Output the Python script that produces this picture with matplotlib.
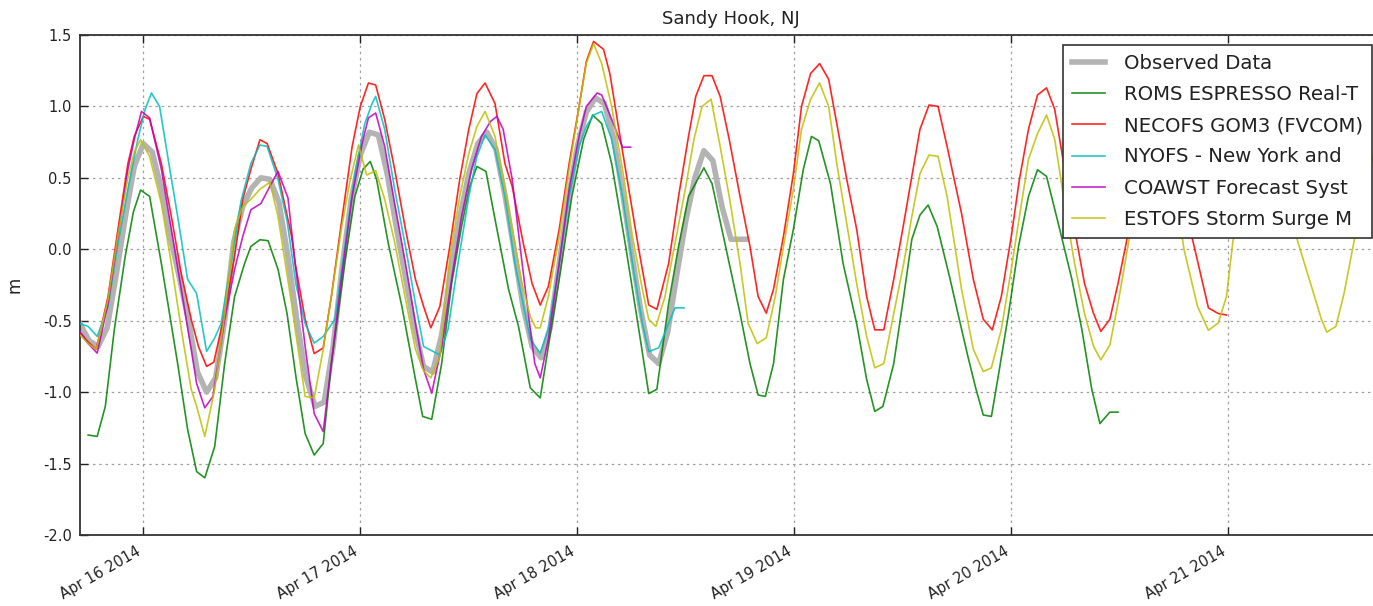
import numpy as np
import pandas as pd
import matplotlib
matplotlib.use("Agg")
import matplotlib.pyplot as plt
import matplotlib.dates as mdates

# ---------------- data (hours after 2014-04-15 17:00, water level in m) ----------------
start_time = "2014-04-15 17:00"

obs_hours = [0, 1, 2, 3, 4, 5, 6, 7, 8, 9, 10, 11, 12, 13, 14, 15, 16, 17, 18, 19, 20, 21, 22, 23,
             24, 25, 26, 27, 28, 29, 30, 31, 32, 33, 34, 35, 36, 37, 38, 39, 40, 41, 42, 43, 44, 45,
             46, 47, 48, 49, 50, 51, 52, 53, 54, 55, 56, 57, 58, 59, 60, 61, 62, 63, 64, 65, 66, 67,
             68, 69, 70, 71, 72, 73, 73.6]
obs_vals = [-0.52, -0.64, -0.68, -0.55, -0.18, 0.22, 0.58, 0.74, 0.68, 0.42, 0.08, -0.2, -0.5, -0.86,
            -1.0, -0.9, -0.5, 0.05, 0.3, 0.43, 0.5, 0.49, 0.33, -0.05, -0.5, -0.9, -1.1, -1.07, -0.68,
            -0.12, 0.35, 0.66, 0.82, 0.8, 0.52, 0.15, -0.2, -0.55, -0.82, -0.86, -0.6, -0.15, 0.22, 0.53,
            0.74, 0.82, 0.7, 0.38, 0.0, -0.4, -0.68, -0.76, -0.55, -0.1, 0.35, 0.72, 0.96, 1.06, 1.02,
            0.78, 0.4, -0.02, -0.42, -0.74, -0.8, -0.58, -0.18, 0.2, 0.5, 0.69, 0.62, 0.3, 0.07, 0.07, 0.07]

roms_hours = [0.9, 1.9, 2.8, 3.8, 5.0, 5.9, 6.7, 7.7, 9.0, 10.8, 11.9, 12.9, 13.8, 14.9, 16.0, 17.1,
              18.2, 18.9, 19.9, 20.8, 21.9, 22.9, 23.9, 24.9, 25.9, 26.9, 27.8, 29.3, 30.4, 31.3, 32.1,
              32.8, 34.1, 35.6, 37.1, 37.9, 38.9, 40.0, 41.1, 42.2, 43.1, 43.9, 44.9, 45.9, 47.4, 48.5,
              49.8, 50.9, 51.8, 53.0, 54.4, 55.7, 56.7, 57.7, 58.8, 60.3, 61.8, 62.9, 63.8, 65.1, 66.2,
              67.3, 69.0, 69.9, 71.4, 73.0, 74.1, 75.0, 75.8, 76.7, 77.8, 78.9, 80.0, 80.9, 81.7, 83.0,
              84.4, 85.9, 87.0, 87.9, 88.8, 90.0, 91.1, 92.0, 92.9, 93.8, 94.8, 96.2, 97.1, 98.2, 99.1,
              99.9, 100.8, 101.5, 102.7, 103.8, 104.9, 105.9, 106.9, 108.2, 109.7, 110.8, 111.9, 112.8,
              113.9, 114.8]
roms_vals = [-1.30, -1.31, -1.10, -0.56, -0.05, 0.26, 0.415, 0.37, -0.1, -0.8, -1.26, -1.556, -1.60,
             -1.38, -0.8, -0.33, -0.1, 0.02, 0.067, 0.06, -0.14, -0.45, -0.9, -1.29, -1.44, -1.36, -0.8,
             -0.09, 0.37, 0.56, 0.615, 0.49, 0.04, -0.40, -0.91, -1.17, -1.19, -0.80, -0.24, 0.16, 0.44,
             0.58, 0.545, 0.21, -0.28, -0.54, -0.97, -1.04, -0.68, -0.21, 0.37, 0.77, 0.94, 0.88, 0.60,
             0.04, -0.56, -1.01, -0.98, -0.38, 0.02, 0.37, 0.57, 0.46, 0.02, -0.45, -0.80, -1.02, -1.03,
             -0.80, -0.21, 0.14, 0.56, 0.79, 0.76, 0.46, -0.1, -0.52, -0.91, -1.135, -1.10, -0.80, -0.33,
             0.07, 0.24, 0.31, 0.16, -0.2, -0.45, -0.75, -0.98, -1.16, -1.17, -0.91, -0.45, 0.02, 0.37,
             0.557, 0.51, 0.18, -0.21, -0.56, -0.98, -1.22, -1.14, -1.14]

necofs_hours = [0, 0.9, 1.8, 3.1, 4.2, 5.3, 6.0, 7.0, 7.7, 9.0, 10.1, 11.2, 12.3, 13.1, 14.0, 14.8,
                16.0, 17.1, 18.0, 18.9, 19.9, 20.7, 21.9, 23.4, 23.8, 24.9, 25.9, 26.9, 27.8, 28.9,
                30.1, 31.0, 31.9, 32.7, 33.7, 34.8, 36.0, 37.1, 38.0, 38.8, 39.8, 40.9, 42.0, 43.0,
                43.9, 44.8, 45.9, 47.0, 47.8, 49.0, 50.0, 50.9, 51.8, 53.0, 54.1, 55.2, 56.0, 56.8,
                57.9, 58.6, 59.6, 60.7, 61.8, 62.9, 63.8, 65.1, 66.2, 67.3, 68.1, 69.0, 69.9, 70.8,
                71.8, 73.0, 74.1, 75.0, 75.9, 76.7, 77.8, 78.9, 79.8, 80.8, 81.8, 82.8, 83.7, 84.8,
                85.9, 87.0, 87.9, 88.9, 90.0, 91.1, 92.0, 92.9, 93.9, 94.9, 95.9, 97.5, 98.8, 99.9,
                100.9, 101.9, 103.0, 103.9, 104.9, 105.9, 106.9, 107.8, 108.9, 110.0, 111.1, 112.1,
                112.9, 113.9, 114.8, 115.7, 116.8, 117.8, 118.8, 119.8, 120.8, 121.8, 123.3, 124.8,
                125.9, 126.8]
necofs_vals = [-0.58, -0.65, -0.70, -0.33, 0.14, 0.60, 0.79, 0.93, 0.91, 0.60, 0.23, -0.17, -0.49,
               -0.68, -0.82, -0.79, -0.45, -0.05, 0.35, 0.56, 0.767, 0.74, 0.53, 0.09, -0.1, -0.49,
               -0.73, -0.69, -0.33, 0.18, 0.72, 1.0, 1.164, 1.15, 0.91, 0.56, 0.14, -0.21, -0.40,
               -0.55, -0.40, 0.02, 0.49, 0.84, 1.09, 1.164, 1.02, 0.60, 0.44, 0.05, -0.24, -0.39,
               -0.26, 0.14, 0.60, 1.0, 1.315, 1.455, 1.40, 1.23, 0.84, 0.42, 0.0, -0.39, -0.42, -0.1,
               0.37, 0.79, 1.07, 1.215, 1.215, 1.07, 0.77, 0.37, 0.02, -0.33, -0.447, -0.28, 0.09,
               0.53, 1.0, 1.23, 1.30, 1.19, 0.88, 0.49, 0.14, -0.33, -0.564, -0.564, -0.21, 0.18,
               0.51, 0.84, 1.01, 1.0, 0.72, 0.25, -0.21, -0.49, -0.564, -0.33, 0.09, 0.49, 0.84,
               1.08, 1.13, 0.98, 0.56, 0.14, -0.24, -0.45, -0.575, -0.49, -0.24, 0.04, 0.45, 0.8,
               1.0, 1.0, 0.75, 0.4, 0.0, -0.41, -0.45, -0.46]

nyofs_hours = [0, 0.9, 1.9, 3.1, 4.2, 5.3, 6.4, 7.2, 7.9, 8.8, 9.7, 10.8, 11.9, 12.9, 14.0, 14.9,
               15.6, 16.7, 17.8, 18.9, 19.9, 20.7, 21.9, 22.9, 23.9, 24.9, 25.9, 26.9, 28.2, 29.3,
               30.4, 31.5, 32.3, 32.7, 33.7, 34.8, 36.0, 37.1, 38.0, 39.8, 40.7, 41.8, 43.0, 43.9,
               44.8, 45.9, 47.0, 48.1, 49.8, 50.9, 51.8, 53.0, 54.1, 55.2, 56.0, 56.8, 57.7, 58.8,
               60.0, 61.1, 62.2, 62.9, 64.0, 65.1, 65.8, 66.8]
nyofs_vals = [-0.52, -0.54, -0.61, -0.40, 0.04, 0.42, 0.77, 0.98, 1.094, 1.0, 0.65, 0.23, -0.21,
              -0.31, -0.715, -0.62, -0.52, -0.1, 0.335, 0.60, 0.73, 0.72, 0.49, 0.2, -0.25, -0.52,
              -0.657, -0.61, -0.49, 0.02, 0.53, 0.88, 1.02, 1.07, 0.84, 0.42, 0.02, -0.38, -0.68,
              -0.74, -0.56, -0.1, 0.37, 0.65, 0.80, 0.70, 0.37, -0.1, -0.63, -0.727, -0.56, -0.1,
              0.37, 0.72, 0.86, 0.94, 0.965, 0.77, 0.37, -0.1, -0.52, -0.716, -0.69, -0.52, -0.41,
              -0.41]

coawst_hours = [0, 0.9, 1.9, 3.1, 4.2, 5.3, 6.0, 6.8, 7.7, 9.0, 10.1, 11.2, 12.3, 12.9, 13.8, 14.7,
                16.0, 17.1, 18.0, 18.9, 20.0, 21.0, 21.9, 23.0, 23.8, 24.9, 25.9, 26.9, 27.8, 28.9,
                30.1, 31.2, 31.9, 32.7, 33.7, 34.8, 36.0, 37.1, 38.0, 38.9, 40.0, 41.1, 42.2, 43.3,
                44.4, 45.4, 46.1, 46.8, 47.8, 48.9, 49.8, 50.3, 50.9, 51.8, 53.0, 54.1, 55.2, 56.0,
                57.2, 57.7, 58.8, 60.0, 60.9]
coawst_vals = [-0.58, -0.66, -0.727, -0.38, 0.09, 0.56, 0.77, 0.965, 0.92, 0.56, 0.14, -0.28, -0.70,
               -0.94, -1.11, -1.03, -0.49, -0.14, 0.09, 0.277, 0.32, 0.44, 0.545, 0.36, -0.1, -0.68,
               -1.15, -1.276, -0.80, -0.21, 0.37, 0.74, 0.92, 0.954, 0.72, 0.32, -0.1, -0.52, -0.84,
               -1.007, -0.68, -0.21, 0.23, 0.56, 0.79, 0.895, 0.93, 0.84, 0.49, -0.1, -0.56, -0.80,
               -0.90, -0.63, -0.1, 0.42, 0.79, 1.0, 1.094, 1.08, 0.91, 0.715, 0.715]

estofs_hours = [0, 0.9, 1.8, 3.1, 4.2, 5.3, 6.0, 6.7, 7.7, 9.0, 10.1, 11.2, 12.3, 12.9, 13.8, 14.9,
                16.0, 17.1, 18.0, 18.9, 19.9, 21.0, 21.9, 23.4, 23.8, 24.9, 25.9, 26.9, 27.8, 28.9,
                29.9, 30.8, 31.7, 32.7, 33.7, 34.8, 36.0, 37.1, 38.0, 38.8, 39.8, 40.9, 42.0, 43.0,
                43.9, 44.8, 45.9, 47.0, 48.1, 48.9, 49.8, 50.4, 50.9, 51.8, 53.0, 54.1, 55.2, 56.0,
                56.8, 57.7, 58.8, 60.0, 61.1, 62.2, 62.9, 63.7, 64.7, 65.8, 67.0, 67.9, 68.8, 69.8,
                70.8, 71.8, 73.0, 73.9, 74.9, 75.9, 76.9, 77.8, 78.9, 79.8, 80.8, 81.8, 82.8, 83.7,
                84.8, 85.9, 87.0, 87.9, 88.9, 90.0, 91.1, 92.0, 92.9, 93.9, 94.9, 95.9, 97.5, 98.8,
                99.9, 100.8, 101.9, 103.0, 103.9, 104.9, 105.9, 106.9, 107.8, 108.9, 110.0, 111.1,
                112.1, 112.9, 113.9, 114.8, 115.7, 116.8, 117.8, 118.8, 119.8, 120.8, 121.4, 122.1,
                123.6, 124.8, 125.9, 126.8, 127.5, 128.5, 129.5, 130.5, 131.5, 132.5, 133.5, 134.7,
                136.2, 137.3, 137.9, 138.9, 139.8, 140.8, 141.8, 142.8, 143.8]
estofs_vals = [-0.6, -0.66, -0.70, -0.35, 0.1, 0.5, 0.68, 0.767, 0.65, 0.32, -0.1, -0.56, -0.98, -1.1,
               -1.31, -0.98, -0.45, 0.14, 0.30, 0.35, 0.42, 0.47, 0.23, -0.38, -0.56, -1.03, -1.04,
               -0.70, -0.33, 0.14, 0.49, 0.73, 0.52, 0.55, 0.35, 0.05, -0.35, -0.7, -0.85, -0.90,
               -0.75, -0.05, 0.37, 0.67, 0.86, 0.965, 0.79, 0.42, 0.04, -0.24, -0.47, -0.55, -0.55,
               -0.33, 0.09, 0.56, 1.0, 1.30, 1.44, 1.30, 1.0, 0.56, 0.09, -0.28, -0.49, -0.54, -0.33,
               0.04, 0.44, 0.77, 1.0, 1.05, 0.72, 0.37, -0.1, -0.52, -0.66, -0.62, -0.33, 0.02, 0.42,
               0.84, 1.05, 1.164, 1.0, 0.60, 0.18, -0.24, -0.61, -0.83, -0.80, -0.45, -0.1, 0.23,
               0.53, 0.66, 0.65, 0.37, -0.28, -0.70, -0.856, -0.83, -0.56, -0.14, 0.23, 0.63, 0.81,
               0.94, 0.77, 0.32, -0.1, -0.45, -0.68, -0.774, -0.67, -0.38, -0.05, 0.35, 0.65, 0.85,
               0.88, 0.7, 0.3, 0.0, -0.4, -0.567, -0.515, -0.33, 0.05, 0.4, 0.7, 0.85, 0.85, 0.65,
               0.35, 0.05, -0.26, -0.49, -0.58, -0.54, -0.31, 0.02, 0.35, 0.6, 0.8]

labels = ["Observed Data", "ROMS ESPRESSO Real-T", "NECOFS GOM3 (FVCOM)",
          "NYOFS - New York and", "COAWST Forecast Syst", "ESTOFS Storm Surge M"]

title = "Sandy Hook, NJ"
ylabel = "m"


def to_times(hours):
    return pd.Timestamp(start_time) + pd.to_timedelta(np.asarray(hours, dtype=float), unit="h")


# ---------------- figure ----------------
W, H = 1373, 606
fig = plt.figure(figsize=(W / 100, H / 100), dpi=100)
ax = fig.add_axes([80 / W, 1 - 535 / H, 1302 / W, 500 / H])

ax.plot(to_times(obs_hours), obs_vals, color="#b3b3b3", lw=4.0, label=labels[0], zorder=2)
series = [
    (roms_hours, roms_vals, "#008000"),
    (necofs_hours, necofs_vals, "#ff0000"),
    (nyofs_hours, nyofs_vals, "#00bfbf"),
    (coawst_hours, coawst_vals, "#bf00bf"),
    (estofs_hours, estofs_vals, "#bfbf00"),
]
for (h, v, c), lab in zip(series, labels[1:]):
    ax.plot(to_times(h), v, color=c, lw=1.2, label=lab, zorder=3, alpha=0.85)

t0 = pd.Timestamp(start_time)
ax.set_xlim(t0, t0 + pd.Timedelta(hours=144))
ax.set_ylim(-2.0, 1.5)
ax.set_yticks(np.arange(-2.0, 1.51, 0.5))
ax.yaxis.set_major_formatter(matplotlib.ticker.FormatStrFormatter("%.1f"))

ax.xaxis.set_major_locator(mdates.DayLocator())
ax.xaxis.set_major_formatter(mdates.DateFormatter("%b %d %Y"))
for lbl in ax.get_xticklabels():
    lbl.set_rotation(30)
    lbl.set_ha("right")

ax.tick_params(axis="both", direction="in", length=6, width=1, labelsize=10.5,
               top=True, right=True, colors="#222222", pad=6)
ax.grid(True, linestyle=(0, (2, 3)), color="#a0a0a0", lw=0.9)
for s in ax.spines.values():
    s.set_linewidth(1.3)
    s.set_color("#333333")

ax.set_title(title, fontsize=13, color="#222222", pad=8)
ax.set_ylabel(ylabel, fontsize=12, color="#222222", labelpad=14)

leg = ax.legend(loc="upper right", fontsize=14.2, fancybox=False, framealpha=1,
                edgecolor="#333333", borderaxespad=0.5, handlelength=1.7,
                handletextpad=0.95, labelspacing=0.62, borderpad=0.45)
leg.get_frame().set_linewidth(1.2)
for t in leg.get_texts():
    t.set_color("#222222")

fig.savefig("out.png", dpi=100)
